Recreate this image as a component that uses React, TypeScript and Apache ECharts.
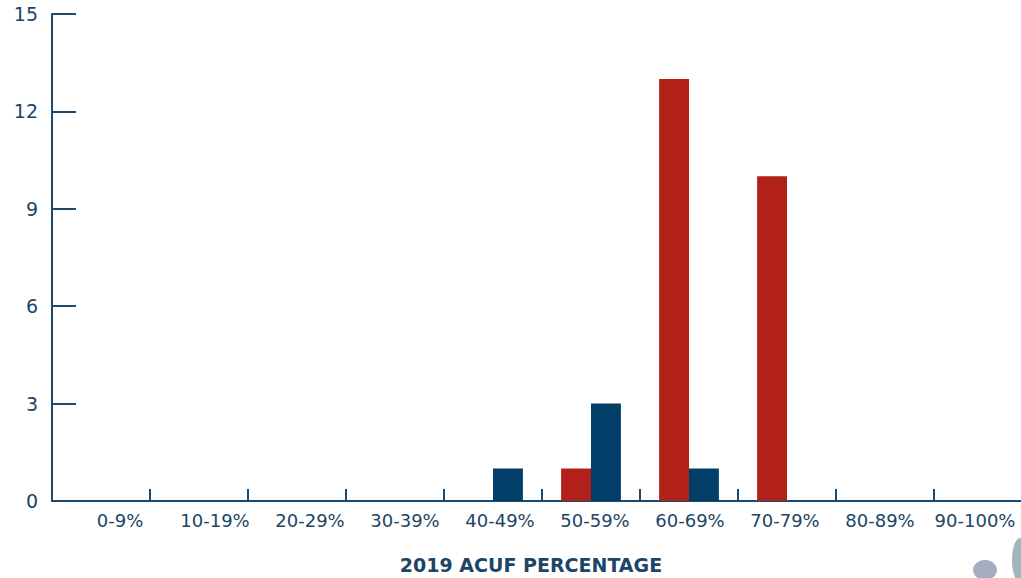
import React, { useEffect, useRef } from "react";
import * as echarts from "echarts";

const categories = ["0-9%", "10-19%", "20-29%", "30-39%", "40-49%", "50-59%", "60-69%", "70-79%", "80-89%", "90-100%"];
const redValues = [0, 0, 0, 0, 0, 1, 13, 10, 0, 0];
const blueValues = [0, 0, 0, 0, 1, 3, 1, 0, 0, 0];
const yTicks = [0, 3, 6, 9, 12, 15];
const axisTitle = "2019 ACUF PERCENTAGE";

const AXIS = "#1b4a70";
const TEXT = "#1c4567";
const FONT = "DejaVu Sans";

// labels in the reference are spread a little tighter than the category slots
const labelPadding = (i: number) => {
  const d = 19 - 3 * i;
  return d >= 0 ? [0, 0, 0, 2 * d] : [0, -2 * d, 0, 0];
};

export default function App() {
  const ref = useRef<HTMLDivElement>(null);
  useEffect(() => {
    document.body.style.margin = "0";
    const chart = echarts.init(ref.current!, null, { renderer: "svg" });
    chart.setOption({
      animation: false,
      grid: { left: 52, top: 14, width: 980, height: 487, containLabel: false, outerBoundsMode: "none" },
      xAxis: {
        type: "category",
        data: categories.map((c, i) => ({ value: c, textStyle: { padding: labelPadding(i) } })),
        boundaryGap: true,
        axisLine: { lineStyle: { color: AXIS, width: 2 } },
        axisTick: { show: true, inside: true, length: 12, interval: 0, lineStyle: { color: AXIS, width: 2 } },
        axisLabel: { color: TEXT, fontSize: 18, fontFamily: FONT, margin: 10, interval: 0 },
        name: axisTitle,
        nameLocation: "middle",
        nameGap: 54,
        nameMoveOverlap: false,
        nameTextStyle: { color: TEXT, fontSize: 19, fontWeight: "bold", fontFamily: FONT, padding: [0, 22, 0, 0] },
      },
      yAxis: {
        type: "value",
        min: yTicks[0],
        max: yTicks[yTicks.length - 1],
        interval: 3,
        splitLine: { show: false },
        axisLine: { show: true, lineStyle: { color: AXIS, width: 2 } },
        axisTick: { show: true, inside: true, length: 24, lineStyle: { color: AXIS, width: 2 } },
        axisLabel: { color: TEXT, fontSize: 19, fontFamily: FONT, margin: 14 },
      },
      series: [
        {
          type: "bar",
          data: redValues,
          itemStyle: { color: "#b22119" },
          barGap: "0%",
          barCategoryGap: "39%",
        },
        {
          type: "bar",
          data: blueValues,
          itemStyle: { color: "#023f68" },
          barGap: "0%",
          barCategoryGap: "39%",
        },
      ],
      graphic: [
        { type: "ellipse", shape: { cx: 985, cy: 570, rx: 12, ry: 10 }, style: { fill: "#a4adc2" }, silent: true },
        { type: "ellipse", shape: { cx: 1020, cy: 560, rx: 8, ry: 22 }, style: { fill: "#9fb6c0" }, silent: true },
      ],
    });
    return () => chart.dispose();
  }, []);
  return <div ref={ref} style={{ width: 1021, height: 578 }} />;
}
